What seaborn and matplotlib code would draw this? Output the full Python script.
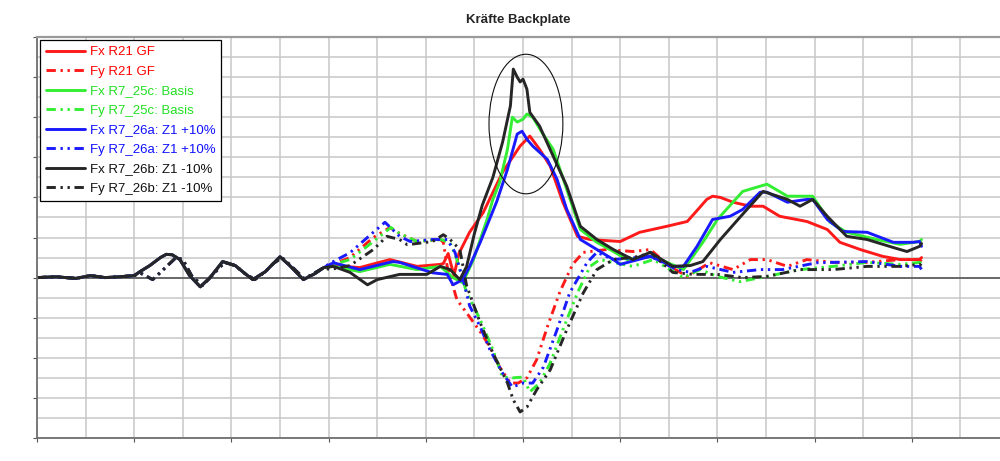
import matplotlib
matplotlib.use("Agg")
import matplotlib.pyplot as plt
from matplotlib.patches import Ellipse
from matplotlib.lines import Line2D
from matplotlib.ticker import MultipleLocator
import pandas as pd
import seaborn as sns

# ---------------------------------------------------------------------------
# Data: time in ms, force in kN
# ---------------------------------------------------------------------------
# Before ~30 ms all runs practically coincide
T_START_FX = [0, 2, 4, 5.5, 7, 8.5, 10, 10.6, 11.6, 12.7, 13.3, 13.9, 14.7, 15.7,
              16.8, 17.8, 19.1, 20.4, 21.4, 22.2, 23.5, 24.3, 25.0, 26.0, 27.4,
              28.6, 29.5]
FX_START = [0, 0.02, -0.02, 0.05, 0.0, 0.02, 0.05, 0.15, 0.3, 0.5, 0.58, 0.57, 0.45,
            0.05, -0.23, 0.0, 0.4, 0.3, 0.1, -0.05, 0.15, 0.35, 0.52, 0.3, -0.05,
            0.1, 0.25]
T_START_FY = [0, 2, 4, 5.5, 7, 8.5, 10, 10.6, 11.9, 13.0, 14.3, 15.0, 15.9, 17.0,
              17.8, 19.3, 20.4, 21.4, 22.4, 23.5, 24.3, 25.2, 26.1, 27.5, 28.6, 29.5]
FY_START = [0, 0.02, -0.02, 0.05, 0, 0.02, 0.05, 0.12, -0.05, 0.2, 0.5, 0.45, 0.05,
            -0.2, 0.0, 0.38, 0.3, 0.1, -0.05, 0.15, 0.35, 0.5, 0.3, -0.03, 0.12, 0.25]

# R21 GF
T_FX_R21 = [30.5, 33.2, 36.3, 39.1, 41.5, 41.8, 42.3, 42.9, 43.4, 44.5, 45.9, 47.9,
            49.7, 50.7, 51.7, 52.8, 54.1, 55.6, 56.9, 60.0, 62.0, 64.8, 66.9, 68.0,
            68.9, 69.5, 70.3, 71.6, 73.4, 74.7, 76.4, 79.2, 81.3, 82.6, 84.7, 87.0,
            88.8, 90.8, 91.0]
FX_R21 = [0.3, 0.25, 0.45, 0.28, 0.33, 0.35, 0.6, 0.05, 0.6, 1.13, 1.62, 2.63, 3.28,
          3.53, 3.2, 2.78, 1.88, 1.03, 0.95, 0.9, 1.13, 1.28, 1.4, 1.7, 1.95, 2.03,
          2.0, 1.88, 1.78, 1.78, 1.53, 1.4, 1.2, 0.88, 0.7, 0.53, 0.45, 0.45, 0.5]
T_FY_R21 = [30.1, 32.2, 34.6, 36.3, 37.3, 39.1, 41.5, 41.8, 42.2, 43.2, 44.5, 45.6,
            46.6, 47.6, 48.7, 49.5, 50.4, 51.4, 52.5, 53.8, 55.1, 56.2, 58.6, 61.3,
            63.1, 65.1, 66.9, 69.2, 71.6, 73.4, 75.1, 77.2, 79.2, 81.9, 85.4, 88.8,
            90.8, 91.0]
FY_R21 = [0.3, 0.5, 1.0, 1.25, 1.1, 0.9, 0.95, 0.88, 0.28, -0.55, -0.98, -1.35,
          -1.73, -2.23, -2.63, -2.63, -2.5, -2.05, -1.23, -0.35, 0.33, 0.63, 0.7,
          0.65, 0.7, 0.28, 0.03, 0.37, 0.2, 0.45, 0.45, 0.28, 0.45, 0.38, 0.38,
          0.45, 0.45, 0.4]

# R7_25c: Basis
T_FX_25C = [30.5, 33.2, 36.3, 39.1, 41.5, 42.8, 43.8, 44.9, 46.3, 46.9, 47.6, 48.4,
            48.9, 49.4, 50.0, 50.4, 51.0, 52.0, 53.1, 54.5, 55.9, 57.6, 59.3, 60.7,
            63.4, 66.5, 68.5, 70.0, 72.6, 75.1, 77.2, 79.8, 81.6, 83.3, 86.4, 88.8,
            90.8, 91.0]
FX_25C = [0.28, 0.15, 0.33, 0.2, 0.28, 0.0, -0.13, 0.45, 1.45, 1.95, 2.38, 3.2, 4.0,
          3.88, 3.95, 4.08, 4.0, 3.6, 3.2, 2.2, 1.2, 0.88, 0.65, 0.45, 0.53, 0.2,
          0.88, 1.45, 2.15, 2.33, 2.03, 2.03, 1.38, 1.13, 0.95, 0.83, 0.9, 0.95]
T_FY_25C = [30.1, 32.2, 34.6, 36.4, 37.3, 39.1, 41.5, 42.5, 43.2, 44.2, 45.6, 46.9,
            47.9, 49.0, 50.0, 50.7, 51.7, 52.8, 54.1, 55.6, 56.9, 57.9, 61.3, 63.4,
            66.5, 68.2, 70.0, 72.3, 75.1, 78.5, 81.9, 85.4, 88.8, 90.8, 91.0]
FY_25C = [0.3, 0.45, 0.9, 1.25, 1.1, 0.9, 0.95, 0.88, 0.45, -0.38, -1.05, -1.8,
          -2.48, -2.5, -2.48, -2.85, -2.63, -2.13, -1.3, -0.38, 0.28, 0.45, 0.28,
          0.45, 0.0, 0.2, 0.03, -0.1, 0.03, 0.2, 0.28, 0.38, 0.33, 0.38, 0.35]

# R7_26a: Z1 +10%
T_FX_26A = [30.5, 33.2, 36.6, 37.3, 40.7, 42.2, 42.8, 43.8, 44.5, 45.6, 46.3, 47.3,
            48.4, 49.4, 49.9, 50.4, 51.0, 52.5, 53.5, 54.5, 55.9, 57.6, 59.3, 60.0,
            63.1, 65.4, 66.5, 67.9, 69.5, 71.3, 72.6, 74.4, 75.1, 77.2, 79.2, 79.8,
            81.3, 82.9, 85.4, 88.1, 90.1, 90.8, 91.0]
FX_26A = [0.37, 0.2, 0.4, 0.38, 0.12, 0.08, -0.18, -0.05, 0.28, 0.88, 1.3, 1.9, 2.7,
          3.58, 3.65, 3.45, 3.28, 2.95, 2.45, 1.7, 0.95, 0.7, 0.45, 0.33, 0.53, 0.28,
          0.28, 0.78, 1.45, 1.53, 1.7, 2.13, 2.13, 1.88, 1.95, 1.95, 1.45, 1.15,
          1.13, 0.88, 0.88, 0.9, 0.78]
T_FY_26A = [30.1, 32.2, 34.6, 35.8, 37.3, 38.4, 40.7, 42.2, 43.0, 44.0, 44.5, 45.6,
            46.6, 47.9, 48.9, 50.0, 51.0, 52.1, 53.5, 54.8, 56.6, 57.6, 59.3, 63.1,
            65.8, 67.2, 68.9, 71.6, 74.4, 76.7, 80.2, 85.4, 88.8, 90.8, 91.0]
FY_26A = [0.35, 0.62, 1.13, 1.38, 1.03, 0.9, 0.95, 0.95, 0.63, -0.2, -0.7, -1.23,
          -1.8, -2.38, -2.73, -2.63, -2.63, -2.23, -1.3, -0.38, 0.38, 0.63, 0.45,
          0.53, 0.2, 0.13, 0.28, 0.13, 0.2, 0.2, 0.37, 0.4, 0.28, 0.28, 0.2]

# R7_26b: Z1 -10%
T_FX_26B = [30.5, 32.2, 34.0, 35.0, 37.3, 40.1, 41.5, 42.5, 43.5, 44.2, 45.0, 45.8,
            46.9, 47.9, 48.7, 49.0, 49.4, 49.7, 50.0, 50.4, 50.7, 51.7, 53.1, 54.5,
            55.9, 57.6, 59.3, 61.3, 63.1, 65.4, 67.2, 68.5, 70.3, 72.3, 74.7, 77.2,
            78.5, 79.8, 81.3, 83.3, 85.4, 88.1, 89.5, 90.8, 91.0]
FX_26B = [0.28, 0.13, -0.18, -0.05, 0.08, 0.08, 0.28, 0.2, -0.05, 0.28, 1.1, 1.8,
          2.5, 3.38, 4.28, 5.2, 5.0, 4.88, 4.95, 4.7, 4.12, 3.78, 3.03, 2.28, 1.28,
          0.95, 0.7, 0.45, 0.63, 0.28, 0.3, 0.4, 0.95, 1.5, 2.15, 1.95, 1.78, 1.95,
          1.53, 1.03, 0.95, 0.75, 0.65, 0.78, 0.85]
T_FY_26B = [30.1, 32.2, 34.6, 36.0, 37.3, 38.1, 40.7, 41.8, 42.5, 43.5, 44.2, 45.6,
            46.9, 48.4, 49.0, 49.7, 50.4, 51.4, 52.8, 54.5, 56.2, 57.6, 59.3, 62.0,
            63.1, 65.4, 67.5, 70.0, 72.6, 75.1, 78.5, 81.9, 85.4, 88.8, 90.8, 91.0]
FY_26B = [0.2, 0.3, 0.7, 1.03, 0.95, 0.82, 0.9, 1.07, 0.95, 0.7, -0.2, -1.13, -1.88,
          -2.63, -3.05, -3.35, -3.23, -2.8, -2.3, -1.3, -0.38, 0.2, 0.45, 0.53, 0.63,
          0.13, 0.08, 0.08, 0.0, 0.03, 0.2, 0.2, 0.28, 0.28, 0.33, 0.3]

NAMES = ["Fx R21 GF", "Fy R21 GF",
         "Fx R7_25c: Basis", "Fy R7_25c: Basis",
         "Fx R7_26a: Z1 +10%", "Fy R7_26a: Z1 +10%",
         "Fx R7_26b: Z1 -10%", "Fy R7_26b: Z1 -10%"]
SERIES = [
    (T_START_FX + T_FX_R21, FX_START + FX_R21),
    (T_START_FY + T_FY_R21, FY_START + FY_R21),
    (T_START_FX + T_FX_25C, FX_START + FX_25C),
    (T_START_FY + T_FY_25C, FY_START + FY_25C),
    (T_START_FX + T_FX_26A, FX_START + FX_26A),
    (T_START_FY + T_FY_26A, FY_START + FY_26A),
    (T_START_FX + T_FX_26B, FX_START + FX_26B),
    (T_START_FY + T_FY_26B, FY_START + FY_26B),
]

RED, GREEN, BLUE, BLACK = "#ff1a1a", "#33ee33", "#1a1aff", "#262626"
LINE_COLORS = [RED, RED, GREEN, GREEN, BLUE, BLUE, BLACK, BLACK]
TEXT_COLORS = ["#ff0000", "#ff0000", "#22e022", "#22e022",
               "#1010ff", "#1010ff", "#111111", "#111111"]
DASH_DOT_DOT = (3.2, 1.6, 0.8, 1.6, 0.8, 1.6)
DASHES = ["", DASH_DOT_DOT] * 4

df = pd.concat(
    [pd.DataFrame({"Zeit": t, "Kraft": f, "Kurve": n}) for n, (t, f) in zip(NAMES, SERIES)],
    ignore_index=True,
)

# ---------------------------------------------------------------------------
# Figure
# ---------------------------------------------------------------------------
sns.set_style("white")
plt.rcParams["font.family"] = ["Liberation Sans", "DejaVu Sans"]

fig = plt.figure(figsize=(10, 4.61), dpi=100)
ax = fig.add_axes([0.037, 0.0499, 0.963, 0.8698])

GRID = "#c8c8c8"
ax.set_xlim(0, 99.07)
ax.set_ylim(-4, 6)
ax.xaxis.set_major_locator(MultipleLocator(10))
ax.xaxis.set_minor_locator(MultipleLocator(5))
ax.yaxis.set_major_locator(MultipleLocator(1))
ax.yaxis.set_minor_locator(MultipleLocator(0.5))
ax.grid(True, which="both", color=GRID, lw=1.1)
ax.set_axisbelow(True)
ax.tick_params(which="major", length=3, width=0.8, color="#555555",
               labelleft=False, labelbottom=False, left=True, bottom=True)
ax.tick_params(which="minor", length=0)

for side in ("left", "bottom"):
    ax.spines[side].set_color("#707070")
    ax.spines[side].set_linewidth(1.3)
ax.spines["top"].set_color("#9a9a9a")
ax.spines["top"].set_linewidth(1.6)
ax.spines["right"].set_visible(False)

ax.axhline(0, color="#606060", lw=1.3, zorder=1.5)

sns.lineplot(
    data=df, x="Zeit", y="Kraft", hue="Kurve", style="Kurve",
    hue_order=NAMES, style_order=NAMES,
    palette=dict(zip(NAMES, LINE_COLORS)), dashes=dict(zip(NAMES, DASHES)),
    estimator=None, sort=False, lw=2.1, legend=False, ax=ax,
)

# highlight around the Fx peaks
ax.add_patch(Ellipse((50.3, 3.83), 7.6, 3.48, fill=False, ec="#111111", lw=0.8, zorder=5))

ax.set_title("Kräfte Backplate", fontsize=9.5, fontweight="bold", pad=10)
ax.set_xlabel("Zeit (ms)", fontsize=11, fontweight="bold", labelpad=4)
ax.set_ylabel("Kraft (kN)", fontsize=11, fontweight="bold", labelpad=6)

handles = [
    Line2D([], [], color=c, lw=2.1, linestyle="-" if d == "" else (0, d))
    for c, d in zip(LINE_COLORS, DASHES)
]
leg = ax.legend(handles, NAMES, loc="upper left", bbox_to_anchor=(0.0, 1.0),
                fontsize=9.5, frameon=True, fancybox=False, framealpha=1,
                edgecolor="black", handlelength=2.9, handletextpad=0.4,
                labelspacing=0.55, borderpad=0.45, borderaxespad=0.25)
leg.get_frame().set_linewidth(0.9)
for txt, col in zip(leg.get_texts(), TEXT_COLORS):
    txt.set_color(col)

fig.savefig("out.png", dpi=100)
